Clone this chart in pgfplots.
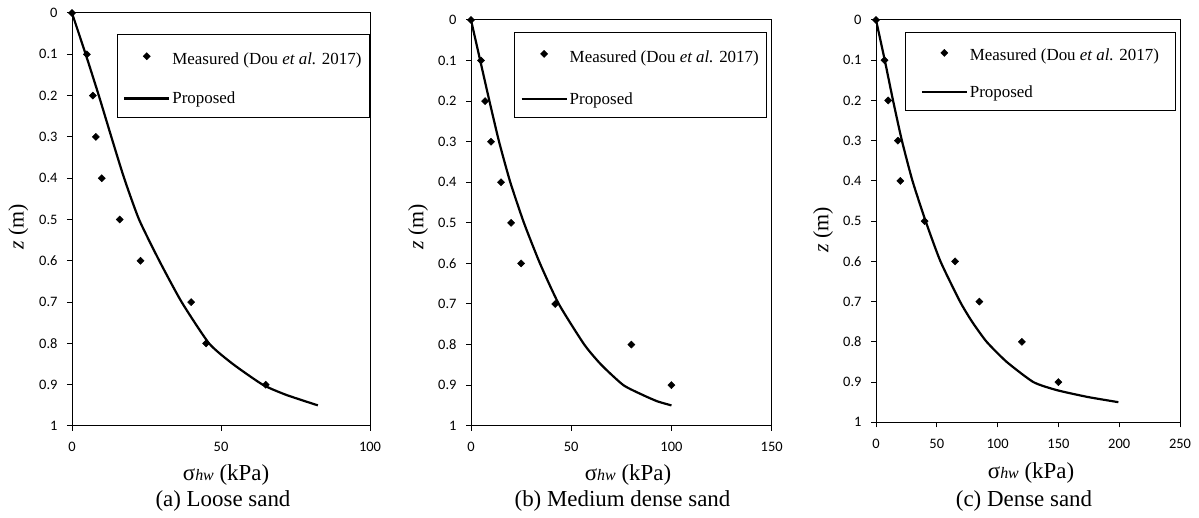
\documentclass[border=0pt]{standalone}
\usepackage{fontspec}
\setmainfont{Liberation Serif}
\newfontfamily\calibri{Carlito}
\usepackage{pgfplots}
\pgfplotsset{compat=1.18}

\pgfplotstableread{
x y
0 0
5 0.1
7 0.2
8 0.3
10 0.4
16 0.5
23 0.6
40 0.7
45 0.8
65 0.9
}\measA
\pgfplotstableread{
x y
0 0
4.6 0.1
9.0 0.2
13.2 0.3
17.5 0.4
22.5 0.5
29.3 0.6
36.8 0.7
46 0.8
54 0.85
64 0.9
72 0.925
82.5 0.95
}\propA
\pgfplotstableread{
x y
0 0
5 0.1
7 0.2
10 0.3
15 0.4
20 0.5
25 0.6
42 0.7
80 0.8
100 0.9
}\measB
\pgfplotstableread{
x y
0 0
4.6 0.1
9.2 0.2
14 0.3
19.6 0.4
26.4 0.5
34.4 0.6
43.8 0.7
56.5 0.8
65 0.85
76 0.9
86 0.925
93 0.94
100 0.95
}\propB
\pgfplotstableread{
x y
0 0
7 0.1
10 0.2
18 0.3
20 0.4
40 0.5
65 0.6
85 0.7
120 0.8
150 0.9
}\measC
\pgfplotstableread{
x y
0 0
7.2 0.1
14 0.2
21.3 0.3
30 0.4
40.8 0.5
53 0.6
69.1 0.7
79 0.75
91 0.8
107.5 0.85
129.4 0.9
148.6 0.92
174 0.937
199.3 0.95
}\propC

\pgfplotsset{
  panel/.style={
    scale only axis,
    y dir=reverse,
    ymin=0, ymax=1, xmin=0,
    ytick={0,0.1,0.2,0.3,0.4,0.5,0.6,0.7,0.8,0.9,1},
    yticklabels={0,0.1,0.2,0.3,0.4,0.5,0.6,0.7,0.8,0.9,1},
    tick align=outside, tick pos=left,
    major tick length=5bp,
    tick style={black, line width=1bp},
    ticklabel style={font=\calibri\fontsize{14.5}{14.5}\selectfont},
    yticklabel style={xshift=-6bp},
    xticklabel style={yshift=-8bp},
    /pgf/number format/assume math mode=true,
    axis line style={line width=1bp},
    xlabel={σ{\fontsize{16}{16}\selectfont\itshape hw} (kPa)},
    ylabel={\textit{z} (m)},
    every axis y label/.style={rotate=90, anchor=center, font=\fontsize{22}{22}\selectfont},
    every axis x label/.style={anchor=center, font=\fontsize{23}{23}\selectfont},
    legend cell align=left,
    legend style={draw=black, line width=1bp, fill=white,
      font=\fontsize{17}{17}\selectfont, anchor=north west,
      row sep=22bp, inner ysep=10bp,
      nodes={inner xsep=2bp, inner ysep=2bp}},
  },
  meas/.style={only marks, mark=square*, mark size=2.5bp, black,
    mark options={rotate=45, line width=0.5bp},
    legend image code/.code={\draw[##1] plot coordinates {(22.5bp,0bp)}; \path (0bp,0bp) (45bp,0bp);}},
  prop/.style={black, line width=2.2bp, mark=none, smooth, tension=0.35,
    legend image code/.code={\draw[##1] (0bp,0bp) -- (45bp,0bp);}},
}

\begin{document}
\begin{tikzpicture}[x=1bp,y=1bp]
\path[use as bounding box] (0,0) rectangle (1199,518);

\begin{axis}[panel, at={(72bp,92bp)}, anchor=south west,
  width=298bp, height=413bp, xmax=100, xtick={0,50,100},
  xlabel style={at={(axis description cs:0.517,-0.118)}},
  ylabel style={at={(axis description cs:-0.18,0.482)}},
  legend style={at={(axis description cs:0.150,0.949)}, inner xsep=6bp}]
\addplot[meas] table[x=x,y=y] {\measA};
\addlegendentry{\rule{0pt}{17.8bp}Measured (Dou \textit{et al.} 2017)}
\addplot[prop] table[x=x,y=y] {\propA};
\addlegendentry{Proposed}
\end{axis}

\begin{axis}[panel, at={(471bp,92.3bp)}, anchor=south west,
  width=300.7bp, height=405.7bp, xmax=150, xtick={0,50,100,150},
  xlabel style={at={(axis description cs:0.522,-0.121)}},
  ylabel style={at={(axis description cs:-0.176,0.49)}},
  legend style={at={(axis description cs:0.143,0.971)}, inner xsep=6bp, row sep=25bp}]
\addplot[meas] table[x=x,y=y] {\measB};
\addlegendentry{\rule{0pt}{17.8bp}Measured (Dou \textit{et al.} 2017)}
\addplot[prop] table[x=x,y=y] {\propB};
\addlegendentry{Proposed}
\end{axis}

\begin{axis}[panel, at={(876bp,95.7bp)}, anchor=south west,
  width=304bp, height=402.3bp, xmax=250, xtick={0,50,100,150,200,250},
  xlabel style={at={(axis description cs:0.51,-0.126)}},
  ylabel style={at={(axis description cs:-0.174,0.478)}},
  legend style={at={(axis description cs:0.096,0.971)}, inner xsep=15bp, row sep=20bp}]
\addplot[meas] table[x=x,y=y] {\measC};
\addlegendentry{\rule{0pt}{16bp}Measured (Dou \textit{et al.} 2017)}
\addplot[prop] table[x=x,y=y] {\propC};
\addlegendentry{Proposed}
\end{axis}

\node[font=\fontsize{23}{23}\selectfont] at (223,17) {(a) Loose sand};
\node[font=\fontsize{23}{23}\selectfont] at (622.5,17) {(b) Medium dense sand};
\node[font=\fontsize{23}{23}\selectfont] at (1024,17) {(c) Dense sand};
\end{tikzpicture}
\end{document}
